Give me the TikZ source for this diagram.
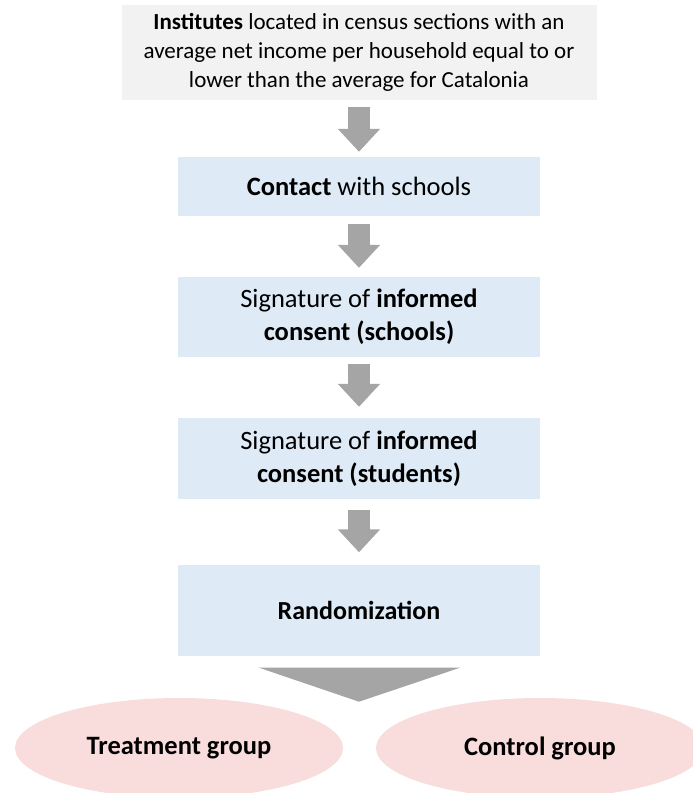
\documentclass[tikz,border=0pt]{standalone}
\usepackage{fontspec}
\setmainfont{Carlito}
\usetikzlibrary{positioning,calc,arrows.meta,shapes.geometric}
\definecolor{boxblue}{HTML}{DEEAF6}
\definecolor{boxgray}{HTML}{F2F2F2}
\definecolor{arrowgray}{HTML}{A5A5A5}
\definecolor{grouppink}{HTML}{F9DCDC}

\begin{document}
\begin{tikzpicture}[x=1pt,y=1pt,
	stepbox/.style={fill=boxblue,minimum width=362pt,align=center,font=\fontsize{26.5}{33}\selectfont},
	groupnode/.style={ellipse,fill=grouppink,minimum width=328pt,minimum height=100pt,font=\fontsize{26.5}{30}\selectfont\bfseries},
	blockarrow/.style={arrowgray,line width=22pt,-{Triangle[length=23pt,width=41pt]}}]
	\useasboundingbox (0,0) rectangle (693,-793);
	\node[fill=boxgray,minimum width=475pt,minimum height=95pt,align=center,font=\fontsize{23}{29}\selectfont] (inst) at (359,-52.5)
		{\textbf{Institutes} located in census sections with an\\average net income per household equal to or\\lower than the average for Catalonia};
	\node[stepbox,minimum height=59pt] (contact) at (359,-186.5) {\textbf{Contact} with schools};
	\node[stepbox,minimum height=80pt] (schools) at (359,-317) {Signature of \textbf{informed}\\\textbf{consent (schools)}};
	\node[stepbox,minimum height=81pt] (students) at (359,-458.5) {Signature of \textbf{informed}\\\textbf{consent (students)}};
	\node[stepbox,minimum height=91pt,font=\fontsize{26}{33}\selectfont\bfseries] (rand) at (359,-610) {Randomization};
	\node[groupnode] (treat) at (179,-748) {Treatment group};
	\node[groupnode] (ctrl) at (540,-748) {Control group};
	\draw[blockarrow,shorten <=7pt,shorten >=5pt] (inst) -- (contact);
	\draw[blockarrow,shorten <=8pt,shorten >=9pt] (contact) -- (schools);
	\draw[blockarrow,shorten <=7pt,shorten >=11pt] (schools) -- (students);
	\draw[blockarrow,shorten <=11pt,shorten >=12pt] (students) -- (rand);
	% wide split arrow
	\fill[arrowgray] ($(rand.south)+(-100,-12)$) -- ($(rand.south)+(101,-12)$) -- ($(rand.south)+(0,-46)$) -- cycle;
\end{tikzpicture}
\end{document}
